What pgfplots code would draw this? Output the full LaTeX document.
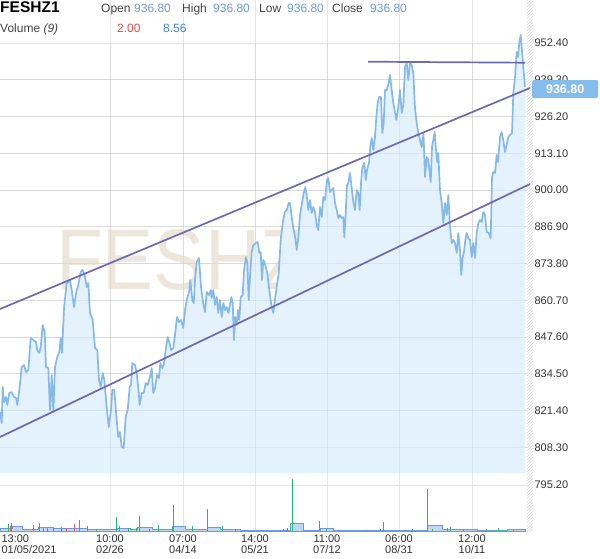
\documentclass[border=0pt]{standalone}
\usepackage{pgfplots}
\pgfplotsset{compat=1.18}
\usepackage{pgfplotstable}
\usepackage{fontspec}
\setmainfont{Liberation Sans}
\usetikzlibrary{patterns}
\definecolor{pline}{HTML}{85B9EA}
\definecolor{pfill}{HTML}{E3F2FD}
\definecolor{chan}{HTML}{6E68B4}
\definecolor{gridc}{HTML}{E6E6E6}
\definecolor{wm}{HTML}{ECE7DA}
\definecolor{volfill}{HTML}{A9C8F0}
\definecolor{volline}{HTML}{6A9BE0}
\definecolor{vgreen}{HTML}{19BE6E}
\definecolor{vred}{HTML}{E8585A}
\definecolor{hblue}{HTML}{6B9BD2}
\definecolor{hblue2}{HTML}{3F80E0}
\definecolor{hred}{HTML}{E04848}
\definecolor{tickc}{HTML}{333333}
\definecolor{hgrey}{HTML}{444444}
\definecolor{boxc}{HTML}{86BCEC}

\pgfplotstableread{
x y
0 820.85
1.7 816.93
2.7 829.76
4 824.42
6 826.20
7.3 823.35
9.3 827.63
11.7 827.98
14 826.20
16 825.84
17.3 823.35
19.3 828.69
21.7 836.89
24 837.61
26 835.11
28.3 835.82
30.7 847.23
33.3 846.52
36 845.81
37.3 842.95
39.3 841.89
40.7 844.02
42.7 851.87
44.7 849.37
46 836.89
48.3 836.54
50 821.56
51.7 834.04
53.3 820.85
55 836.89
57.3 840.46
59.3 842.24
60.7 847.23
62 841.89
64 857.93
66.7 866.84
68.3 867.20
70 867.91
71.7 864.34
74 858.28
76 863.28
78.3 866.13
80.7 870.76
82.7 871.47
84.7 869.69
86.7 865.41
88.3 866.84
90 856.15
92.7 853.65
95 843.67
97.3 842.95
99 832.26
100.7 829.76
102.7 834.76
104.3 832.26
106.7 822.63
108.7 815.50
111 821.56
112.3 828.69
114.3 828.69
116.7 818.00
118.3 811.94
120 813.72
121.7 808.37
123.7 808.02
125.7 819.07
127.7 821.56
129.7 829.76
131 830.48
132.3 838.32
135 837.61
136.7 834.76
138.3 829.41
139.7 823.35
141.7 827.63
143.7 827.63
145.7 831.19
147.7 830.48
150 833.33
151.7 836.54
153.3 827.63
155 829.41
157 834.04
159 832.97
160.3 838.32
162.3 836.54
163.7 837.61
165.7 842.95
167.7 847.59
169.3 845.81
171 842.95
173.3 843.67
175 848.30
177 854.72
179 852.94
181 853.65
183.3 850.80
185 857.21
186.7 860.78
189 863.63
190.3 867.91
192.3 860.78
193.7 859.71
195 867.91
196.7 874.33
199 875.75
201 865.41
203 860.07
205 856.50
206.7 863.63
209 862.56
211 864.34
211.7 861.49
213.3 864.34
215 859.00
216.7 861.85
218.3 856.15
220 860.78
221.7 854.72
223.3 859.71
225 857.21
226.7 858.28
228.3 856.15
230 859.00
231.3 861.85
232.7 859.71
234 846.52
235.3 854.72
236.7 851.87
238 857.21
239.3 853.65
240.7 861.85
242.7 862.56
244 871.47
246 876.11
247.3 873.97
248.7 860.78
250 868.98
251.7 877.89
253.3 880.39
256 881.10
257.7 881.46
259.3 877.54
260.7 877.89
262 867.91
263.3 875.04
265.3 873.26
267.3 870.41
269.3 864.34
271.3 859.00
273.3 856.15
275.3 861.85
276.7 865.41
278.7 870.41
280.7 882.17
282.7 888.23
284.7 892.15
286.7 892.86
288.7 895.36
290 895.36
291.7 890.37
293.3 886.45
295.3 882.88
296.7 878.60
298.3 882.88
300 891.08
301.7 894.65
303.3 898.21
305.3 901.06
306.7 898.21
308.3 892.86
310 896.43
311.7 891.80
313.3 893.93
315 892.15
316.7 887.52
318.3 885.73
320 893.93
321.7 890.37
323.3 897.50
325 896.43
327 903.56
328.3 904.27
330 899.28
331.7 899.99
333.3 900.71
335 895.36
336.7 892.86
338.3 890.01
340 891.08
341.7 890.01
343.3 890.37
344.3 883.24
345.7 891.80
347 901.78
348.3 902.49
350 906.06
351.7 900.71
353.3 895.72
355 892.86
356.7 899.99
358.3 898.93
359.7 892.86
361 902.49
362.3 907.84
364.3 909.62
365.7 903.56
367 907.12
369 909.62
370.3 915.32
371.7 918.53
373.3 914.25
375 918.89
376.3 926.02
377.7 931.01
379 933.15
381 933.15
382.3 920.32
383.7 923.88
385 935.64
386.7 935.64
388.3 937.43
390 940.99
391.7 935.64
393.3 931.01
395 927.80
396.3 924.95
398.3 929.58
400 935.64
401.7 927.45
403.3 930.30
405 943.84
406.7 945.27
408.3 939.21
410 945.27
411.7 944.56
413.3 941.71
415 929.23
416.7 923.88
418.3 920.32
420 917.82
421.7 915.32
423.5 920.00
425 904.63
426.7 911.76
428.3 910.69
430.7 902.85
432 915.32
433.3 917.82
434.7 920.67
436 914.25
437.3 909.98
438.3 913.19
440 899.99
441.7 895.36
443.3 888.23
445 895.36
446.7 891.08
448.3 898.21
450 886.80
451.7 881.10
453.3 882.17
455 881.10
456.7 877.54
458.3 884.67
460 878.60
461.3 869.69
462.7 876.11
464 877.89
465.3 882.17
466.7 884.67
468.3 882.88
470 882.17
471.7 876.11
473.3 881.10
475 875.75
476.7 884.67
478.3 888.23
480 889.30
481.7 888.59
483.3 892.15
485 891.08
486.7 885.02
488.7 884.67
490.7 882.88
492 904.63
493.3 906.41
495 906.06
496.7 912.47
498 909.98
500 918.89
501.7 920.67
503.3 917.82
505 913.54
506.7 916.04
508.3 918.89
510 919.60
512 920.32
513.3 934.58
515 940.28
516.7 949.19
518 947.41
519.3 952.40
520.7 955.25
521.7 950.97
523.3 943.84
525 936.80
}\price

\begin{document}
\begin{tikzpicture}
\path[use as bounding box] (0pt,0pt) rectangle (600pt,558pt);
% hatched strip
\fill[pattern=north east lines, pattern color=black!14] (527pt,27pt) rectangle (533pt,558pt);
\begin{axis}[at={(0pt,85pt)}, anchor=south west, scale only axis,
  width=527pt, height=473pt,
  xmin=0, xmax=527, ymin=799.11, ymax=967.73,
  axis line style={draw=none}, tick style={draw=none},
  xtick={110,183,255,327,399,472}, xticklabels={},
  ytick={808.3,821.4,834.5,847.6,860.7,873.8,886.9,900,913.1,926.2,939.3,952.4},
  yticklabel pos=right,
  grid=major, grid style={gridc, line width=0.9pt},
  yticklabel style={font=\fontsize{11}{11}\selectfont, text=tickc, xshift=4pt,
    /pgf/number format/.cd, fixed, fixed zerofill, precision=2, 1000 sep={}, assume math mode=true},
  clip=false]
\node[anchor=base west, inner sep=0pt, text=wm, xscale=0.89,
  font=\fontsize{86}{86}\selectfont] at (axis cs:56,864.35) {FESHZ1};
\addplot[draw=none, fill=pfill] table[x=x,y=y] {\price} \closedcycle;
% faint grid lines seen through the area
\pgfplotsinvokeforeach{110,183,255,327,399,472}{
  \draw[black, opacity=0.05, line width=0.9pt] (axis cs:#1,799.11) -- (axis cs:#1,952.4);}
\pgfplotsinvokeforeach{808.3,821.4,834.5,847.6,860.7,873.8,886.9,900,913.1,926.2,939.3}{
  \draw[black, opacity=0.05, line width=0.9pt] (axis cs:0,#1) -- (axis cs:527,#1);}
\addplot[pline, line width=1.7pt, line join=round] table[x=x,y=y] {\price};
\addplot[chan, line width=1.7pt] coordinates {(0,857.57) (530,936.36)};
\addplot[chan, line width=1.7pt] coordinates {(0,811.94) (530,902.13)};
\addplot[chan, line width=1.7pt] coordinates {(368,945.73) (525,945.38)};
\node[fill=boxc, text=white, font=\bfseries\fontsize{12.5}{12.5}\selectfont,
  rounded corners=2pt, minimum width=66pt, minimum height=18pt, anchor=west,
  inner sep=0pt] at (axis cs:532,935.99) {936.80};
\end{axis}
\begin{axis}[at={(0pt,27pt)}, anchor=south west, scale only axis,
  width=527pt, height=58pt,
  xmin=0, xmax=527, ymin=0, ymax=58,
  axis line style={draw=none}, tick style={draw=none},
  xtick={110,183,255,327,399,472},
  xticklabels={{10:00\\02/26},{07:00\\04/14},{14:00\\05/21},{11:00\\07/12},{06:00\\08/31},{12:00\\10/11}},
  xticklabel style={align=center, font=\fontsize{11}{10.5}\selectfont, text=tickc, yshift=-0.5pt},
  extra x ticks={0}, extra x tick labels={{13:00\\01/05/2021}},
  extra x tick style={grid=none, xticklabel style={anchor=north west, align=left, xshift=-2pt}},
  ytick={46}, yticklabels={795.20}, yticklabel pos=right,
  yticklabel style={font=\fontsize{11}{11}\selectfont, text=tickc, xshift=4pt},
  grid=major, grid style={gridc, line width=0.9pt},
  clip=false]
\addplot[const plot, fill=volfill, fill opacity=0.75, draw=volline, line width=0.8pt]
 coordinates {(0,2.3)(12,4.7)(22,1.3)(38,3.3)(53,2.5)(87,2)(100,1.3)(117,3)(130,1.3)(137,3.3)(152,1.3)(172,4.7)(185,1.3)(207,3.3)(220,2)(240,0.7)(290,7.3)(303,0.7)(320,2.3)(333,0.7)(427,5.7)(442,1.7)(477,0.7)(507,1.7)(525,1.7)} \closedcycle;
\addplot[ycomb, vgreen, line width=0.9pt] coordinates {(8.3,6.7)(11,8)(33,5.7)(39.3,8)(47,3)(61,4)(79.3,10.7)(87.3,4.7)(96.7,2.3)(116,14)(128.3,3)(136,3)(139.3,14.7)(158.3,5.7)(172.3,4)(173.3,25.7)(192.7,4.7)(207.3,22.3)(222.3,4.7)(235.7,2.3)(283,2.3)(287.3,3.3)(292.7,52.3)(319.3,9.7)(326.7,2.3)(367.7,1.3)(380.7,2)(383.3,8.7)(412.3,1.7)(427.3,41.7)(432.7,2)(447.7,3)(450.7,4)(463.3,2.3)(486.7,1.7)(498.3,2.7)(504,1.3)};
\addplot[ycomb, vred, line width=0.9pt] coordinates {(10,4.7)(43,3)(53,3.3)(66,3)(74,6.7)(119,4.7)(149,2.5)(513,1.5)};
\end{axis}
% header
\node[anchor=base west, inner sep=0pt, font=\bfseries\fontsize{15.5}{15.5}\selectfont] at (0pt,545.5pt) {FESHZ1};
\begin{scope}[every node/.style={anchor=base west, inner sep=0pt, font=\fontsize{12}{12}\selectfont}]
\node[text=hgrey] at (101pt,545.5pt) {Open};
\node[text=hblue] at (134pt,545.5pt) {936.80};
\node[text=hgrey] at (182pt,545.5pt) {High};
\node[text=hblue] at (213pt,545.5pt) {936.80};
\node[text=hgrey] at (259pt,545.5pt) {Low};
\node[text=hblue] at (287pt,545.5pt) {936.80};
\node[text=hgrey] at (332pt,545.5pt) {Close};
\node[text=hblue] at (370pt,545.5pt) {936.80};
\node[text=hgrey] at (0pt,525pt) {Volume \textit{(9)}};
\node[text=hred] at (117pt,525pt) {2.00};
\node[text=hblue2] at (163pt,525pt) {8.56};
\end{scope}
\end{tikzpicture}
\end{document}
